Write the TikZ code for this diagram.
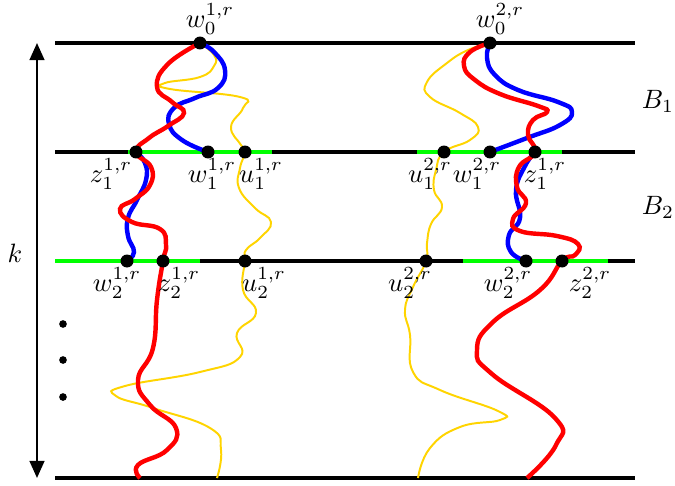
\documentclass[tikz,border=0pt]{standalone}
\usepackage{amsmath,amssymb}
\usetikzlibrary{arrows.meta}
\definecolor{pathyellow}{RGB}{255,212,0}

\begin{document}
\begin{tikzpicture}[x=0.0143cm,y=-0.0143cm,>={Triangle[length=7pt,width=6pt]},
  every node/.style={scale=1.08},
  level/.style={line width=1.6pt},
  seg/.style={line width=1.6pt,green},
  redpath/.style={line width=1.8pt,red},
  bluepath/.style={line width=1.8pt,blue},
  yellowpath/.style={line width=0.8pt,pathyellow},
  dot/.style={circle,fill,inner sep=0pt,minimum size=0.172cm}]
\useasboundingbox (0,0) rectangle (675,485);
% positions of the points
\coordinate (w01) at (200,43); \coordinate (w02) at (490,43);
\coordinate (z11) at (136,152); \coordinate (w11) at (208,152); \coordinate (u11) at (245,152);
\coordinate (u12) at (444,152); \coordinate (w12) at (490,152); \coordinate (z12) at (535,152);
\coordinate (w21) at (127,261); \coordinate (z21) at (163,261); \coordinate (u21) at (245,261);
\coordinate (u22) at (426,261); \coordinate (w22) at (526,261); \coordinate (z22) at (562,261);
\coordinate (ktop) at (37,43); \coordinate (kbot) at (37,478);
% levels
\foreach \y in {43,152,261,478} \draw[level] (55,\y) -- (635,\y);
\draw[seg] (128,152) -- (272,152);
\draw[seg] (417,152) -- (562,152);
\draw[seg] (55,261) -- (200,261);
\draw[seg] (463,261) -- (608,261);
\draw[<->,line width=1pt] (ktop) -- (kbot);
% paths
\draw[yellowpath] plot[smooth,tension=0.8] coordinates {(w01) (214,55) (214,66) (200,77) (165,83) (170,89)
  (240,97) (243,108) (231,127) (241,145) (u11) (240,168) (239,188) (255,208) (271,222) (260,238)
  (246,250) (u21) (243,290) (256,313) (237,333) (240,357) (200,372) (125,386) (116,396) (153,408)
  (210,428) (221,450) (217,478)};
\draw[yellowpath] plot[smooth,tension=0.8] coordinates {(w02) (468,50) (447,63) (427,82) (430,97) (460,113)
  (478,127) (470,140) (u12) (436,170) (434,190) (442,207) (431,224) (427,243) (u22) (413,287)
  (405,310) (410,335) (413,372) (440,390) (498,411) (500,420) (460,427) (430,448) (418,478)};
\draw[bluepath] plot[smooth,tension=0.8] coordinates {(w01) (214,52) (225,70) (218,88) (195,98) (174,108)
  (169,124) (182,140) (w11)};
\draw[bluepath] plot[smooth,tension=0.8] coordinates {(z11) (145,163) (146,180) (137,200) (128,218)
  (128,236) (134,252) (w21)};
\draw[bluepath] plot[smooth,tension=0.8] coordinates {(w02) (487,58) (495,75) (518,90) (558,102) (572,112)
  (560,125) (527,138) (w12)};
\draw[bluepath] plot[smooth,tension=0.8] coordinates {(z12) (525,166) (516,190) (520,218) (509,235)
  (511,252) (w22)};
\draw[redpath] plot[smooth,tension=0.8] coordinates {(w01) (168,64) (157,87) (172,102) (184,113) (168,126)
  (149,138) (z11) (151,167) (150,185) (135,199) (120,209) (132,222) (160,229) (166,245) (z21)
  (157,300) (153,348) (138,380) (150,405) (176,428) (167,450) (138,465) (140,478)};
\draw[redpath] plot[smooth,tension=0.8] coordinates {(w02) (470,52) (464,66) (475,80) (500,94) (538,106)
  (547,112) (533,120) (528,135) (z12) (519,167) (517,187) (526,203) (513,219) (520,231) (557,236)
  (578,244) (575,255) (z22) (540,290) (493,322) (477,350) (492,374) (555,418) (556,445)
  (527,478)};
% points
\foreach \p in {w01,w02,z11,w11,u11,u12,w12,z12,w21,z21,u21,u22,w22,z22}
  \node[dot] at (\p) {};
\foreach \y in {324,360,397} \fill (63,\y) circle (0.055cm);
% labels
\node (lw01) at (210,19) {$w_0^{1,r}$};
\node (lw02) at (500,19) {$w_0^{2,r}$};
\node (lz11) at (111,174) {$z_1^{1,r}$};
\node (lw11) at (212,174) {$w_1^{1,r}$};
\node (lu11) at (261,174) {$u_1^{1,r}$};
\node (lu12) at (430,174) {$u_1^{2,r}$};
\node (lw12) at (477,174) {$w_1^{2,r}$};
\node (lz12) at (545,174) {$z_1^{1,r}$};
\node (lw21) at (117,283) {$w_2^{1,r}$};
\node (lz21) at (179,283) {$z_2^{1,r}$};
\node (lu21) at (264,283) {$u_2^{1,r}$};
\node (lu22) at (410,283) {$u_2^{2,r}$};
\node (lw22) at (508,283) {$w_2^{2,r}$};
\node (lz22) at (590,283) {$z_2^{2,r}$};
\node (lk) at (15,253) {$k$};
\node (lB1) at (658,101) {$B_1$};
\node (lB2) at (658,207) {$B_2$};
\end{tikzpicture}
\end{document}
